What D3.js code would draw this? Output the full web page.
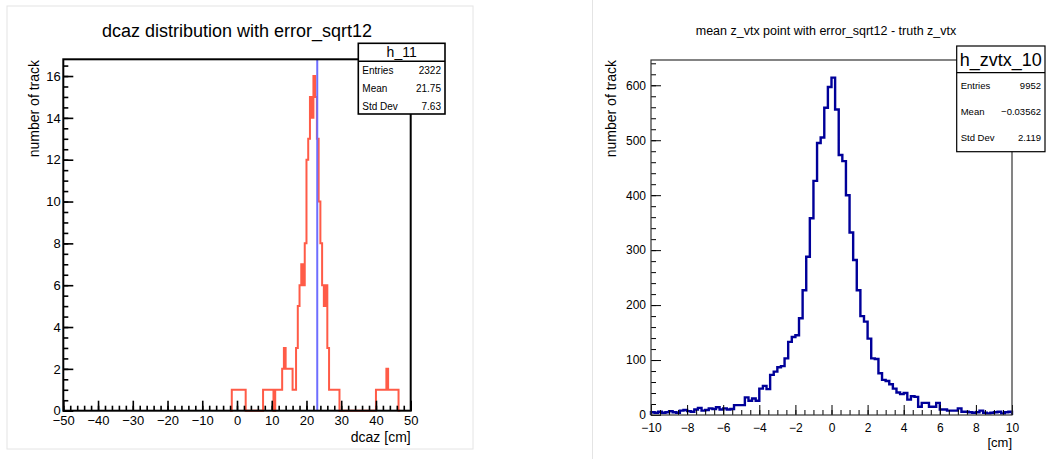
<!DOCTYPE html>
<html><head><meta charset="utf-8">
<script src="https://cdn.jsdelivr.net/npm/d3@7"></script>
<style>
html,body{margin:0;padding:0;background:#fff;}
svg{display:block;font-family:"Liberation Sans",Arial,Helvetica,sans-serif;}
</style></head>
<body>
<svg id="c" width="1054" height="459"></svg>
<script>
// ---------- data: left histogram (dcaz), bins of 0.5 cm starting at -2 cm ----------
const dcazFirstEdge = -2;
const dcazBinWidth = 0.5;
const dcazCounts = [
  0, 1, 1, 1, 1, 1, 1, 1, 1,          // -2.0 .. 2.0
  0, 0, 0, 0, 0, 0, 0, 0, 0, 0,       // 2.5 .. 7.0
  1, 1, 1, 1, 1, 1,                   // 7.5 .. 10.0
  0, 1, 1, 1, 1,                      // 10.5 .. 12.5
  2, 3, 2, 2, 2, 2,                   // 13.0 .. 15.5
  1, 1, 3, 5, 6, 7, 6, 8,             // 16.0 .. 19.5
  12, 13, 15, 14, 16, 15, 13, 10,     // 20.0 .. 23.5
  8, 6, 5, 6, 3, 1, 1, 1, 1, 1, 1,    // 24.0 .. 29.0
  0, 0, 0, 0, 0, 0, 0, 0, 0, 0, 0, 0, 0, 0, 0, 0, 0, 0, 0, 0, 0, // 29.5 .. 39.5
  1, 1, 1, 1, 1, 1, 2, 1, 1, 1, 1, 1, 1, // 40.0 .. 46.0
  0
];
const dcazMarker = 23.1;
const leftXTicks = [-50, -40, -30, -20, -10, 0, 10, 20, 30, 40, 50];
const leftYTicks = [0, 2, 4, 6, 8, 10, 12, 14, 16];
const leftStatsNames = ["Entries", "Mean", "Std Dev"];
const leftStatsValues = ["2322", "21.75", "7.63"];

// ---------- data: right histogram (z_vtx), 100 bins of 0.2 cm from -10 to 10 ----------
const zFirstEdge = -10;
const zBinWidth = 0.2;
const zCounts = [
  5, 4, 6, 4, 5, 7, 5, 4, 8, 9,            // -10.0 .. -8.2
  7, 6, 10, 13, 8, 9, 12, 11, 14, 10,      // -8.0 .. -6.2
  12, 10, 11, 18, 18, 18, 32, 26, 30, 26,  // -6.0 .. -4.2
  48, 53, 47, 73, 79, 87, 89, 103, 133, 142, // -4.0 .. -2.2
  145, 176, 227, 288, 358, 426, 495, 505, 559, 597, // -2.0 .. -0.2
  614, 556, 473, 462, 400, 332, 282, 227, 180, 170, // 0.0 .. 1.8
  139, 103, 102, 76, 64, 62, 56, 48, 41, 38,       // 2.0 .. 3.8
  40, 28, 34, 33, 15, 22, 22, 15, 15, 22,          // 4.0 .. 5.8
  10, 10, 8, 8, 8, 12, 6, 6, 5, 4,                 // 6.0 .. 7.8
  5, 8, 4, 3, 4, 5, 6, 3, 5, 6                     // 8.0 .. 9.8
];
const rightXTicks = [-10, -8, -6, -4, -2, 0, 2, 4, 6, 8, 10];
const rightYTicks = [0, 100, 200, 300, 400, 500, 600];
const rightStatsNames = ["Entries", "Mean", "Std Dev"];
const rightStatsValues = ["9952", "\u22120.03562", "2.119"];

const svg = d3.select("#c");
const fmt = d => d3.format("d")(d);

// panel borders
svg.append("rect").attr("x",7).attr("y",6).attr("width",466).attr("height",443)
  .attr("fill","none").attr("stroke","#e4e4e4").attr("stroke-width",1);
svg.append("line").attr("x1",592.5).attr("x2",592.5).attr("y1",0).attr("y2",459)
  .attr("stroke","#e4e4e4").attr("stroke-width",1);

function stepPoints(firstEdge, width, counts){
  const pts = [[firstEdge, 0]];
  counts.forEach((c,i)=>{
    pts.push([firstEdge + i*width, c]);
    pts.push([firstEdge + (i+1)*width, c]);
  });
  pts.push([firstEdge + counts.length*width, 0]);
  return pts;
}

function drawAxes(g, x, y, o){
  const x0 = x.range()[0], y1 = y.range()[0];
  g.append("g").attr("transform",`translate(0,${y1})`)
    .call(d3.axisBottom(x).tickValues(o.xMinor).tickSize(-o.minorLen).tickFormat(""))
    .call(s=>s.select(".domain").remove())
    .call(s=>s.selectAll("line").attr("stroke","#000").attr("stroke-width",o.tickW));
  g.append("g").attr("transform",`translate(0,${y1})`)
    .call(d3.axisBottom(x).tickValues(o.xTicks).tickSize(-o.majorLen).tickPadding(o.xPad).tickFormat(fmt))
    .call(s=>s.select(".domain").remove())
    .call(s=>s.selectAll("line").attr("stroke","#000").attr("stroke-width",o.tickW))
    .call(s=>s.selectAll("text").attr("font-size",o.labelSize).attr("fill","#000")
      .attr("font-family",'"Liberation Sans",Arial,Helvetica,sans-serif'));
  g.append("g").attr("transform",`translate(${x0},0)`)
    .call(d3.axisLeft(y).tickValues(o.yMinor).tickSize(-o.minorLen).tickFormat(""))
    .call(s=>s.select(".domain").remove())
    .call(s=>s.selectAll("line").attr("stroke","#000").attr("stroke-width",o.tickW));
  g.append("g").attr("transform",`translate(${x0},0)`)
    .call(d3.axisLeft(y).tickValues(o.yTicks).tickSize(-o.majorLen).tickPadding(o.yPad).tickFormat(fmt))
    .call(s=>s.select(".domain").remove())
    .call(s=>s.selectAll("line").attr("stroke","#000").attr("stroke-width",o.tickW))
    .call(s=>s.selectAll("text").attr("font-size",o.labelSize).attr("fill","#000")
      .attr("font-family",'"Liberation Sans",Arial,Helvetica,sans-serif'));
}

function statsBox(g, bx, by, bw, bh, sepY, title, titleSize, titleBase, names, values, rowBases, rowSize, strokeW){
  g.append("rect").attr("x",bx).attr("y",by).attr("width",bw).attr("height",bh)
    .attr("fill","#fff").attr("stroke","#000").attr("stroke-width",strokeW);
  g.append("line").attr("x1",bx).attr("x2",bx+bw).attr("y1",sepY).attr("y2",sepY)
    .attr("stroke","#000").attr("stroke-width",strokeW);
  g.append("text").attr("x",bx+bw/2).attr("y",titleBase).attr("text-anchor","middle")
    .attr("font-size",titleSize).text(title);
  names.forEach((n,i)=>{
    g.append("text").attr("x",bx+4).attr("y",rowBases[i]).attr("font-size",rowSize).text(n);
    g.append("text").attr("x",bx+bw-4).attr("y",rowBases[i]).attr("font-size",rowSize)
      .attr("text-anchor","end").text(values[i]);
  });
}

// ================= LEFT =================
{
  const g = svg.append("g");
  const x = d3.scaleLinear().domain([-50,50]).range([63.3,410.7]);
  const y = d3.scaleLinear().domain([0,16.8]).range([410.7,59.3]);
  const line = d3.line().x(d=>x(d[0])).y(d=>y(d[1]));
  g.append("path").attr("d",line(stepPoints(dcazFirstEdge,dcazBinWidth,dcazCounts)))
    .attr("fill","none").attr("stroke","#ff5b47").attr("stroke-width",2);
  g.append("line").attr("x1",x(dcazMarker)).attr("x2",x(dcazMarker))
    .attr("y1",y(0)).attr("y2",y(16.8))
    .attr("stroke","#6e6eff").attr("stroke-width",2);
  drawAxes(g, x, y, {
    xTicks:leftXTicks, xMinor:d3.range(-50,50.01,2),
    yTicks:leftYTicks, yMinor:d3.range(0,16.81,0.5),
    majorLen:10, minorLen:5, tickW:1.6, xPad:5, yPad:2.5, labelSize:13
  });
  g.append("rect").attr("x",63.3).attr("y",59.3).attr("width",347.4).attr("height",351.4)
    .attr("fill","none").attr("stroke","#000").attr("stroke-width",2);
  g.append("text").attr("x",237).attr("y",36.5).attr("text-anchor","middle")
    .attr("font-size",18).text("dcaz distribution with error_sqrt12");
  g.append("text").attr("transform","translate(39,60) rotate(-90)")
    .attr("text-anchor","end").attr("font-size",14).text("number of track");
  g.append("text").attr("x",410.7).attr("y",442).attr("text-anchor","end")
    .attr("font-size",14).text("dcaz [cm]");
  statsBox(g, 358.3, 43.3, 86.7, 70.7, 61.3, "h_11", 14, 57, leftStatsNames, leftStatsValues,
    [74.2, 91.7, 109.5], 10, 1.6);
}

// ================= RIGHT =================
{
  const g = svg.append("g");
  const x = d3.scaleLinear().domain([-10,10]).range([651,1012]);
  const y = d3.scaleLinear().domain([0,646]).range([415,60]);
  const line = d3.line().x(d=>x(d[0])).y(d=>y(d[1]));
  g.append("path").attr("d",line(stepPoints(zFirstEdge,zBinWidth,zCounts)))
    .attr("fill","none").attr("stroke","#000099").attr("stroke-width",2.4);
  drawAxes(g, x, y, {
    xTicks:rightXTicks, xMinor:d3.range(-10,10.01,0.5),
    yTicks:rightYTicks, yMinor:d3.range(0,646,20),
    majorLen:10, minorLen:5, tickW:1, xPad:8, yPad:5, labelSize:12
  });
  g.append("rect").attr("x",651).attr("y",60).attr("width",361).attr("height",355)
    .attr("fill","none").attr("stroke","#333").attr("stroke-width",1.2);
  g.append("text").attr("x",826).attr("y",35).attr("text-anchor","middle")
    .attr("font-size",12.5).text("mean z_vtx point with error_sqrt12 - truth z_vtx");
  g.append("text").attr("transform","translate(616,60) rotate(-90)")
    .attr("text-anchor","end").attr("font-size",14).text("number of track");
  g.append("text").attr("x",1012).attr("y",447).attr("text-anchor","end")
    .attr("font-size",13).text("[cm]");
  statsBox(g, 956.7, 46, 88.3, 105.7, 72.7, "h_zvtx_10", 18, 65.5, rightStatsNames, rightStatsValues,
    [88.5, 114.5, 141], 9.5, 1.2);
}
</script>
</body></html>
